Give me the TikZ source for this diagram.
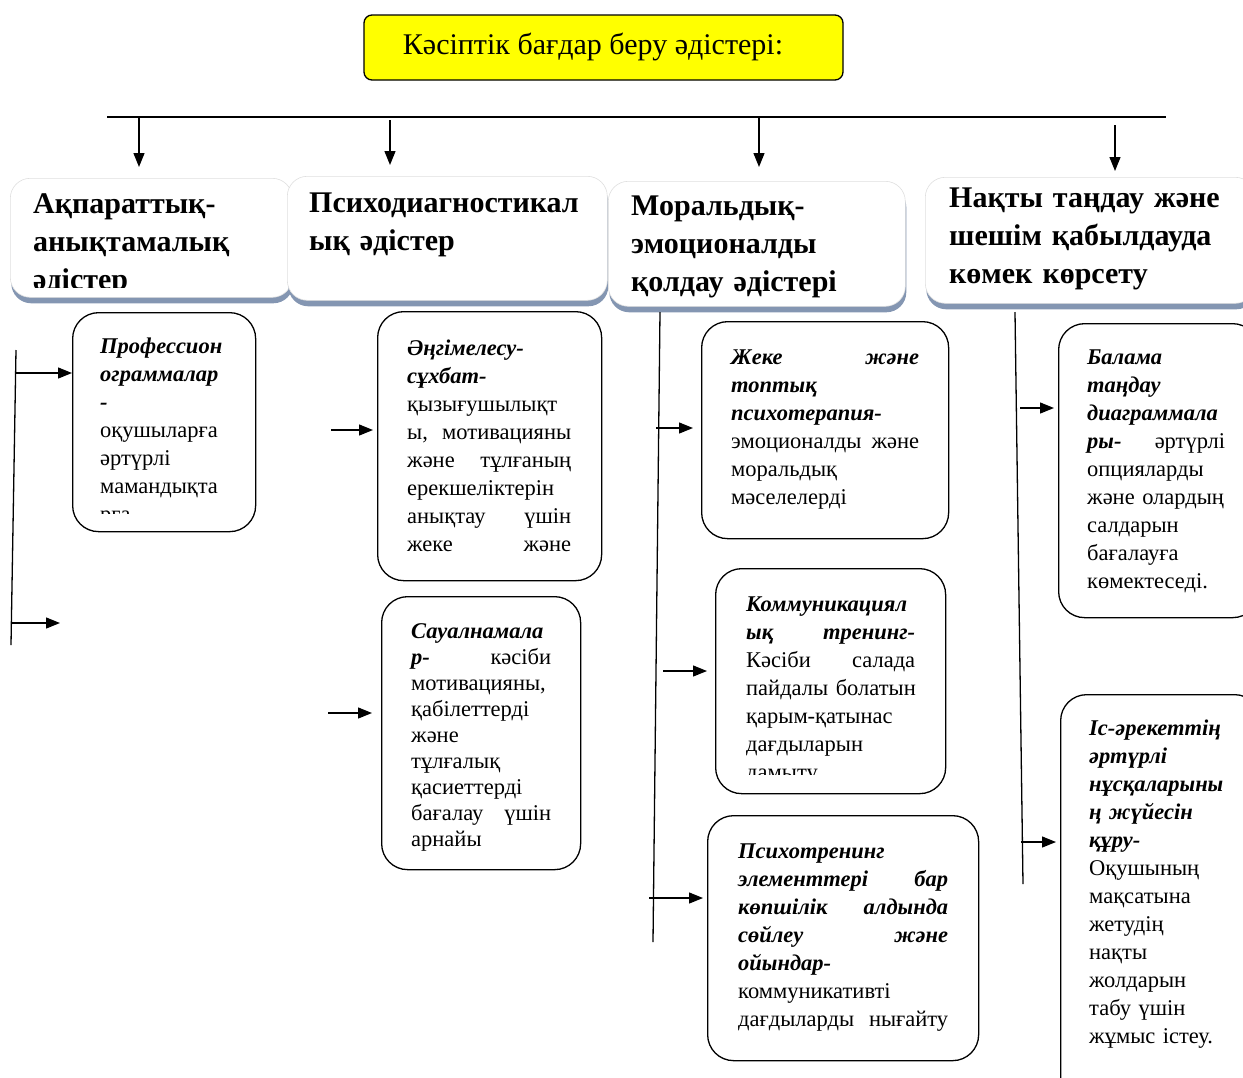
\documentclass[tikz,border=0pt]{standalone}
\usepackage{fontspec}
\setmainfont{Liberation Serif}
\usetikzlibrary{arrows.meta,shadows}
\definecolor{shadowcol}{RGB}{132,150,178}
\definecolor{titleyellow}{RGB}{255,255,0}
\newcommand{\bim}[1]{\textbf{\textit{#1}}}
\tikzset{
  conn/.style={line width=1.3pt},
  arr/.style={line width=1.3pt,-{Triangle[length=14pt,width=11pt]}},
  bodybox/.style={draw,line width=1.3pt,rounded corners=26pt,anchor=north west,inner sep=0pt},
  bodytext/.style={anchor=base west,inner sep=0pt,align=left,font=\fontsize{22.5}{28}\selectfont},
  headbox/.style={draw=gray!25,line width=0.6pt,fill=white,rounded corners=20pt,anchor=north west,inner sep=0pt,
    drop shadow={shadow xshift=1pt,shadow yshift=-6pt,fill=shadowcol,opacity=1}},
  headtext/.style={anchor=base west,inner sep=0pt,align=left,text width=300pt,font=\fontsize{30}{38}\selectfont\bfseries},
  titlebox/.style={draw,line width=1.3pt,fill=titleyellow,rounded corners=8pt,minimum width=479pt,minimum height=65pt,inner sep=0pt},
}
\begin{document}
\begin{tikzpicture}[x=1pt,y=-1pt]
\useasboundingbox (0,0) rectangle (1243,1077);
% title
\node[titlebox] (title) at (603.5,47.5) {};
\node[inner sep=0pt,font=\fontsize{30}{34}\selectfont] (titletext) at (593,47) {Кәсіптік бағдар беру әдістері:};
% horizontal bar
\coordinate (hl) at (107,117);
\coordinate (hr) at (1166,117);
\draw[conn] (hl) -- (hr);
% header boxes
\node[headbox,minimum width=282pt,minimum height=119pt] (h1) at (10,178) {};
\node[headbox,minimum width=320pt,minimum height=124pt] (h2) at (287,176) {};
\node[headbox,minimum width=297pt,minimum height=125pt] (h3) at (608,181) {};
\node[headbox,minimum width=330pt,minimum height=126pt] (h4) at (925,177) {};
\begin{scope}
\clip (10,178) rectangle (292,287);
\node[headtext] (h1t) at (33,213) {Ақпараттық-\\анықтамалық\\әдістер};
\end{scope}
\node[headtext] (h2t) at (309,212) {Психодиагностикал\\ық әдістер};
\node[headtext] (h3t) at (631,215) {Моральдық-\\эмоционалды\\қолдау әдістері};
\node[headtext] (h4t) at (949,207) {Нақты таңдау және\\шешім қабылдауда\\көмек көрсету};
% down arrows
\coordinate (d1) at (139,117);
\coordinate (d2) at (390,120);
\coordinate (d3) at (759,117);
\coordinate (d4) at (1115,125);
\draw[arr,shorten >=11pt] (d1) -- (d1 |- h1.north);
\draw[arr,shorten >=11pt] (d2) -- (d2 |- h2.north);
\draw[arr,shorten >=14pt] (d3) -- (d3 |- h3.north);
\draw[arr,shorten >=6pt] (d4) -- (d4 |- h4.north);
% body boxes
\node[bodybox,minimum width=183pt,minimum height=219pt] (b1) at (72,312) {};
\node[bodybox,minimum width=224pt,minimum height=269pt] (b2) at (377,311) {};
\node[bodybox,minimum width=199pt,minimum height=273pt] (b3) at (381,596) {};
\node[bodybox,minimum width=247pt,minimum height=217pt] (b4) at (701,321) {};
\node[bodybox,minimum width=230pt,minimum height=225pt] (b5) at (715,568) {};
\node[bodybox,minimum width=271pt,minimum height=245pt] (b6) at (707,815) {};
\node[bodybox,minimum width=200pt,minimum height=294pt] (b7) at (1058,323) {};
\node[bodybox,minimum width=200pt,minimum height=420pt] (b8) at (1060,694) {};
% body texts
\begin{scope}
\clip (72,312) rectangle (255,513);
\node[bodytext,text width=130pt] (t1) at (100,353) {\bim{Профессион}\\\bim{ограммалар}\\\bim{-}\\оқушыларға\\әртүрлі\\мамандықта\\рға};
\end{scope}
\node[bodytext,text width=164pt] (t2) at (407,355) {\bim{Әңгімелесу-}\\\bim{сұхбат-}\\қызығушылықт\\ы,\hfill мотивацияны\\және\hfill тұлғаның\\ерекшеліктерін\\анықтау\hfill үшін\\жеке\hfill және};
\node[bodytext,text width=140pt,font=\fontsize{22.5}{26.1}\selectfont] (t3) at (411,638) {\bim{Сауалнамала}\\\bim{р-}\hfill кәсіби\\мотивацияны,\\қабілеттерді\\және\\тұлғалық\\қасиеттерді\\бағалау\hfill үшін\\арнайы};
\node[bodytext,text width=188pt] (t4) at (731,364) {\bim{Жеке}\hfill\bim{және}\\\bim{топтық}\\\bim{психотерапия-}\\эмоционалды\hfill және\\моральдық\\мәселелерді};
\begin{scope}
\clip (715,568) rectangle (945,774);
\node[bodytext,text width=169pt] (t5) at (746,611) {\bim{Коммуникациял}\\\bim{ық}\hfill\bim{тренинг-}\\Кәсіби\hfill салада\\\mbox{пайдалы болатын}\\қарым-қатынас\\дағдыларын\\дамыту};
\end{scope}
\node[bodytext,text width=210pt] (t6) at (738,858) {\bim{Психотренинг}\\\bim{элементтері}\hfill\bim{бар}\\\bim{көпшілік}\hfill\bim{алдында}\\\bim{сөйлеу}\hfill\bim{және}\\\bim{ойындар-}\\коммуникативті\\дағдыларды\hfill нығайту};
\node[bodytext,text width=138pt] (t7) at (1087,364) {\bim{Балама}\\\bim{таңдау}\\\bim{диаграммала}\\\bim{ры-}\hfill әртүрлі\\опцияларды\\\mbox{және олардың}\\салдарын\\бағалауға\\көмектеседі.};
\node[bodytext,text width=138pt] (t8) at (1089,735) {\bim{Іс-әрекеттің}\\\bim{әртүрлі}\\\bim{нұсқаларыны}\\\bim{ң жүйесін}\\\bim{құру-}\\Оқушының\\мақсатына\\жетудің\\нақты\\жолдарын\\табу үшін\\жұмыс істеу.};
% vertical lines and side arrows
\coordinate (v1a) at (16,350);
\coordinate (v1b) at (11,645);
\draw[conn] (v1a) -- (v1b);
\coordinate (s1) at (16.2,373);
\coordinate (s2) at (12,623);
\coordinate (e2) at (60,623);
\draw[arr] (s1) -- (s1 -| b1.west);
\draw[arr] (s2) -- (e2);
\coordinate (s3) at (331,430);
\coordinate (s4) at (328,713);
\draw[arr,shorten >=4pt] (s3) -- (s3 -| b2.west);
\draw[arr,shorten >=9pt] (s4) -- (s4 -| b3.west);
\coordinate (v3a) at (660,312);
\coordinate (v3b) at (653,942);
\draw[conn] (v3a) -- (v3b);
\coordinate (s5) at (656,428);
\coordinate (s6) at (663,671);
\coordinate (s7) at (649,898);
\draw[arr,shorten >=8pt] (s5) -- (s5 -| b4.west);
\draw[arr,shorten >=8pt] (s6) -- (s6 -| b5.west);
\draw[arr,shorten >=4pt] (s7) -- (s7 -| b6.west);
\coordinate (v4a) at (1015,312);
\coordinate (v4b) at (1023,884);
\draw[conn] (v4a) -- (v4b);
\coordinate (s8) at (1020,408);
\coordinate (s9) at (1021,842);
\draw[arr,shorten >=4pt] (s8) -- (s8 -| b7.west);
\draw[arr,shorten >=4pt] (s9) -- (s9 -| b8.west);
\end{tikzpicture}
\end{document}
